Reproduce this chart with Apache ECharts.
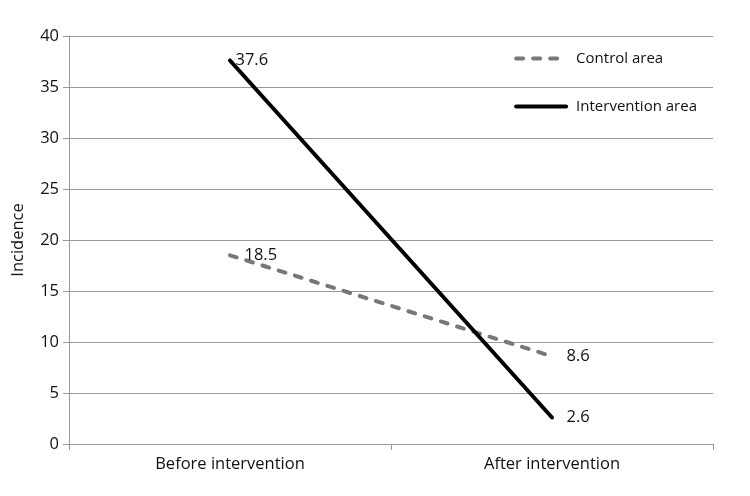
<!DOCTYPE html>
<html><head><meta charset="utf-8">
<script src="https://cdn.jsdelivr.net/npm/echarts@6/dist/echarts.min.js"></script>
<style>html,body{margin:0;padding:0;background:#fff}#c{width:750px;height:496px}</style>
</head><body><div id="c"></div>
<script>
var categories = ['Before intervention', 'After intervention'];
var controlArea = [18.5, 8.6];
var interventionArea = [37.6, 2.6];
var yTicks = [0, 5, 10, 15, 20, 25, 30, 35, 40];
var FONT = 'Open Sans';
var FS = 16.5;
function labelled(vals, dists) {
  return vals.map(function (v, i) {
    return { value: v, label: { distance: dists[i] } };
  });
}
var chart = echarts.init(document.getElementById('c'), null, { renderer: 'canvas' });
chart.setOption({
  animation: false,
  textStyle: { fontFamily: FONT },
  grid: { left: 69, right: 37, top: 36, bottom: 52 },
  legend: {
    orient: 'vertical', right: 48, top: 46, itemWidth: 50, itemHeight: 6, itemGap: 33,
    lineStyle: { width: 4 },
    textStyle: { fontSize: 15, color: '#111', fontFamily: FONT, padding: [0, 0, 0, 5] },
    data: ['Control area', 'Intervention area']
  },
  xAxis: {
    type: 'category', data: categories, boundaryGap: true,
    axisLine: { lineStyle: { color: '#999', width: 1 } },
    axisTick: { show: true, length: 6, lineStyle: { color: '#999' } },
    axisLabel: { fontSize: FS, color: '#111', margin: 12, fontFamily: FONT },
    splitLine: { show: false }
  },
  yAxis: {
    type: 'value', min: yTicks[0], max: yTicks[yTicks.length - 1], interval: 5,
    name: 'Incidence', nameLocation: 'middle', nameGap: 42, nameRotate: 90,
    nameTextStyle: { fontSize: FS, color: '#111', fontFamily: FONT },
    axisLine: { show: true, lineStyle: { color: '#999', width: 1 } },
    axisTick: { show: true, length: 6, inside: false, lineStyle: { color: '#999' } },
    axisLabel: { fontSize: FS, color: '#111', margin: 10, fontFamily: FONT },
    splitLine: { show: true, lineStyle: { color: '#999', width: 1 } }
  },
  series: [
    {
      name: 'Control area', type: 'line', data: labelled(controlArea, [14, 14]),
      symbol: 'circle', symbolSize: 1, showSymbol: true,
      lineStyle: { color: '#777', width: 4, type: [7, 10], cap: 'round' },
      itemStyle: { color: 'rgba(0,0,0,0)', borderWidth: 0 },
      label: { show: true, position: 'right', fontSize: FS, color: '#111', fontFamily: FONT }
    },
    {
      name: 'Intervention area', type: 'line', data: labelled(interventionArea, [5, 14]),
      symbol: 'circle', symbolSize: 1, showSymbol: true,
      lineStyle: { color: '#000', width: 4, cap: 'round' },
      itemStyle: { color: 'rgba(0,0,0,0)', borderWidth: 0 },
      label: { show: true, position: 'right', fontSize: FS, color: '#111', fontFamily: FONT }
    }
  ]
});
</script></body></html>
